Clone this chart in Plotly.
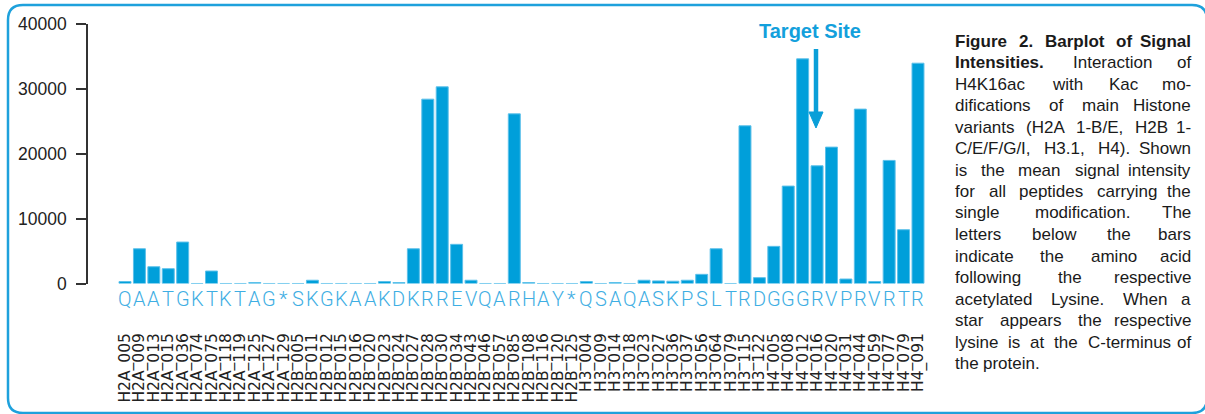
import plotly.graph_objects as go

W, H = 1205, 414

# ---------------- data ----------------
h2a_sites = ["005", "009", "013", "015", "036", "074", "075", "118", "119", "125", "127", "129"]
h2b_sites = ["005", "011", "012", "015", "016", "020", "023", "024", "027", "028", "030", "034",
             "043", "046", "057", "085", "108", "116", "120", "125"]
h3_sites = ["004", "009", "014", "018", "023", "027", "036", "037", "056", "064", "079", "115", "122"]
h4_sites = ["005", "008", "012", "016", "020", "031", "044", "059", "077", "079", "091"]

h2a_values = [300, 5350, 2580, 2280, 6380, 0, 1920, 0, 0, 150, 0, 0]
h2b_values = [0, 500, 0, 0, 0, 0, 300, 150, 5350, 28380, 30280, 6030, 500, 0, 0, 26120,
              150, 0, 0, 0]
h3_values = [300, 0, 150, 0, 500, 400, 350, 500, 1410, 5350, 0, 24280, 900]
h4_values = [5720, 15000, 34590, 18120, 21000, 690, 26850, 300, 18950, 8280, 33920]

h2a_letters = list("QAATGKTKTAG*")
h2b_letters = list("SKGKAAKDKRREVQARHAY*")
h3_letters = list("QSAQASKPSLTRD")
h4_letters = list("GGGRVPRVRTR")

y_ticks = [0, 10000, 20000, 30000, 40000]
y_tick_text = ["0", "10000", "20000", "30000", "40000"]

caption_lines = [
    ("Figure 2. Barplot of Signal", True, True),
    ("Intensities.| Interaction of", True, True),
    ("H4K16ac with Kac mo-", False, True),
    ("difications of main Histone", False, True),
    ("variants (H2A 1-B/E, H2B 1-", False, True),
    ("C/E/F/G/I, H3.1, H4). Shown", False, True),
    ("is the mean signal intensity", False, True),
    ("for all peptides carrying the", False, True),
    ("single modification. The", False, True),
    ("letters below the bars", False, True),
    ("indicate the amino acid", False, True),
    ("following the respective", False, True),
    ("acetylated Lysine. When a", False, True),
    ("star appears the respective", False, True),
    ("lysine is at the C-terminus of", False, True),
    ("the protein.", False, False),
]

categories = ([f"H2A_{s}" for s in h2a_sites] + [f"H2B_{s}" for s in h2b_sites]
              + [f"H3_{s}" for s in h3_sites] + [f"H4_{s}" for s in h4_sites])
values = h2a_values + h2b_values + h3_values + h4_values
letters = h2a_letters + h2b_letters + h3_letters + h4_letters

# ---------------- layout helpers ----------------
def px(x):
    return x / W

def py(y):
    return 1 - y / H

BLUE = "#009fda"
FRAME = "#1ea1dc"

# approximate Arial / Liberation Sans advance widths (per 1000 em)
REG = {" ": 278, ".": 278, ",": 278, "-": 333, "/": 278, "(": 333, ")": 333,
       "a": 556, "b": 556, "c": 500, "d": 556, "e": 556, "f": 278, "g": 556, "h": 556,
       "i": 222, "j": 222, "k": 500, "l": 222, "m": 833, "n": 556, "o": 556, "p": 556,
       "q": 556, "r": 333, "s": 500, "t": 278, "u": 556, "v": 500, "w": 722, "x": 500,
       "y": 500, "z": 500, "A": 667, "B": 667, "C": 722, "D": 722, "E": 667, "F": 611,
       "G": 778, "H": 722, "I": 278, "K": 667, "L": 556, "M": 833, "N": 722, "O": 778,
       "P": 667, "R": 722, "S": 667, "T": 611, "W": 944}
BOLD = {" ": 278, ".": 278, "a": 556, "b": 611, "c": 556, "d": 611, "e": 556, "f": 333,
        "g": 611, "h": 611, "i": 278, "l": 278, "n": 611, "o": 611, "p": 611, "r": 389,
        "s": 556, "t": 333, "u": 611, "y": 556, "F": 611, "B": 722, "S": 667, "I": 278}

def text_width(s, size, bold):
    tbl = BOLD if bold else REG
    return sum(tbl.get(ch, 556) for ch in s) * size / 1000.0

fig = go.Figure()
fig.add_trace(go.Bar(
    x=categories, y=values,
    marker=dict(color=BLUE, line=dict(color="#5cc0ea", width=1)),
    width=0.83, hoverinfo="x+y",
))

# letters below bars
annotations = []
for c, l in zip(categories, letters):
    annotations.append(dict(
        x=c, y=0, xref="x", yref="y", text=l, showarrow=False,
        yshift=-15, yanchor="middle", xanchor="center",
        font=dict(family="Roboto", size=20, color="#3eaee3", weight=300),
    ))

# Target site label
annotations.append(dict(
    x=px(810), y=py(31), xref="paper", yref="paper", text="<b>Target Site</b>",
    showarrow=False, xanchor="center", yanchor="middle",
    font=dict(family="Liberation Sans", size=20, color="#13a0dc"),
))

# caption: justified text, words placed individually
CAP_SIZE = 17
L0, R0 = 953, 1193
y0, dy = 41, 21.5
for k, (line, first_bold, justify) in enumerate(caption_lines):
    yy = y0 + k * dy
    # words with bold flags
    words = []
    if "|" in line:
        bpart, rpart = line.split("|")
        words += [(w, True) for w in bpart.split()]
        words += [(w, False) for w in rpart.split()]
    else:
        words += [(w, first_bold) for w in line.split()]
    widths = [text_width(w, CAP_SIZE, b) for w, b in words]
    if justify and len(words) > 1:
        gap = (R0 - L0 - sum(widths)) / (len(words) - 1)
    else:
        gap = text_width(" ", CAP_SIZE, False)
    xcur = L0
    for i, ((w, b), wd) in enumerate(zip(words, widths)):
        last = justify and i == len(words) - 1 and len(words) > 1
        annotations.append(dict(
            x=px(R0 if last else xcur), y=py(yy), xref="paper", yref="paper",
            text=f"<b>{w}</b>" if b else w, showarrow=False,
            xanchor="right" if last else "left", yanchor="middle",
            font=dict(family="Liberation Sans", size=CAP_SIZE, color="#1a1a1a"),
        ))
        xcur += wd + gap

# frame (rounded rectangle) in paper coordinates
Lf, Tf, Rf, Bf, r = 8, 5, 1207, 413, 15
def P(x, y):
    return f"{px(x):.6f},{py(y):.6f}"
frame_path = (f"M {P(Lf + r, Tf)} L {P(Rf - r, Tf)} Q {P(Rf, Tf)} {P(Rf, Tf + r)} "
              f"L {P(Rf, Bf - r)} Q {P(Rf, Bf)} {P(Rf - r, Bf)} L {P(Lf + r, Bf)} "
              f"Q {P(Lf, Bf)} {P(Lf, Bf - r)} L {P(Lf, Tf + r)} Q {P(Lf, Tf)} {P(Lf + r, Tf)} Z")

shapes = [
    dict(type="path", path=frame_path, xref="paper", yref="paper",
         line=dict(color=FRAME, width=2.5), fillcolor="rgba(0,0,0,0)"),
    dict(type="line", xref="paper", yref="paper", x0=px(816), x1=px(816), y0=py(49), y1=py(115),
         line=dict(color="#0a9fd8", width=4.5)),
    dict(type="path", xref="paper", yref="paper",
         path=f"M {P(809, 112)} L {P(823, 112)} L {P(816, 128)} Z",
         fillcolor="#0a9fd8", line=dict(color="#0a9fd8", width=1)),
]

fig.update_layout(
    width=W, height=H,
    margin=dict(l=0, r=0, t=0, b=0),
    paper_bgcolor="white", plot_bgcolor="white",
    showlegend=False,
    annotations=annotations,
    shapes=shapes,
    xaxis=dict(
        domain=[px(117.8), px(925.2)],
        anchor="free", position=py(329),
        type="category", range=[-0.5, len(categories) - 0.5],
        tickmode="array", tickvals=categories, ticktext=categories,
        tickangle=-90, showline=False, ticks="", showgrid=False, zeroline=False,
        tickfont=dict(family="DejaVu Sans", size=15.5, color="#222222"),
        automargin=False, fixedrange=True,
    ),
    yaxis=dict(
        domain=[py(283.5), py(23.7)],
        anchor="free", position=px(87),
        range=[0, 40000], tickmode="array", tickvals=y_ticks, ticktext=y_tick_text,
        showline=True, linecolor="#333333", linewidth=1.5,
        ticks="outside", ticklen=10, tickwidth=1.5, tickcolor="#333333",
        showgrid=False, zeroline=False,
        tickfont=dict(family="Liberation Sans", size=17.5, color="#222222"),
        ticklabelstandoff=6,
        automargin=False, fixedrange=True,
    ),
)

fig.write_html("out.html", post_script="document.body.style.margin='0';",
               config={"displayModeBar": False})
